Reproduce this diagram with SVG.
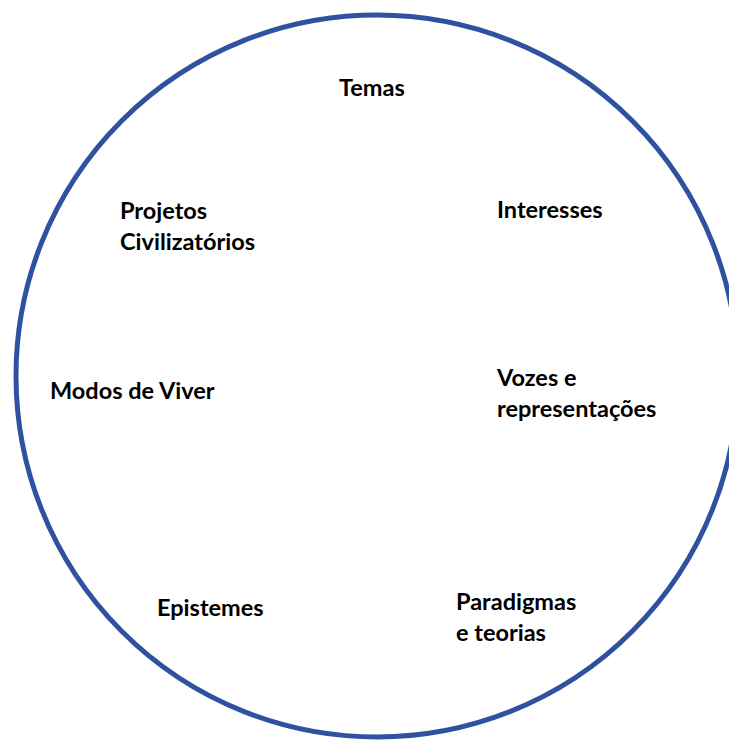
<svg xmlns="http://www.w3.org/2000/svg" width="729" height="742" viewBox="0 0 729 742">
<style>
.lbl{font-family:Lato,"Open Sans","Liberation Sans",sans-serif;font-weight:bold;font-size:23.5px;fill:#000}
.ring{fill:none;stroke:#2e52a0;stroke-width:5}
</style>
<rect width="729" height="742" fill="#fff"/>
<g id="circle"><circle class="ring" cx="377" cy="376" r="361"/></g>
<g id="connectors"></g>
<g id="temas"><text class="lbl" x="339" y="96">Temas</text></g>
<g id="projetos"><text class="lbl" x="120" y="219">Projetos</text><text class="lbl" x="120" y="250">Civilizatórios</text></g>
<g id="interesses"><text class="lbl" x="497" y="218">Interesses</text></g>
<g id="modos"><text class="lbl" x="50" y="399">Modos de Viver</text></g>
<g id="vozes"><text class="lbl" x="497" y="386">Vozes e</text><text class="lbl" x="497" y="417">representações</text></g>
<g id="epistemes"><text class="lbl" x="157" y="616">Epistemes</text></g>
<g id="paradigmas"><text class="lbl" x="456" y="610">Paradigmas</text><text class="lbl" x="456" y="641">e teorias</text></g>
</svg>
